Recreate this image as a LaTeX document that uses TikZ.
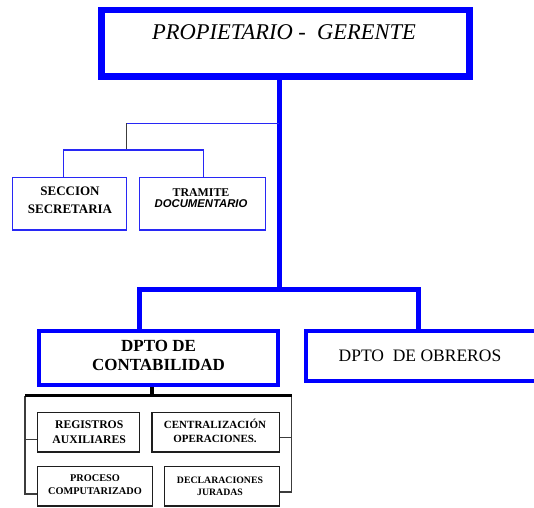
\documentclass[tikz,border=0pt]{standalone}
\usepackage{fontspec}
\setmainfont{Liberation Serif}
\newfontfamily\arialf{Liberation Sans}
\definecolor{pblue}{RGB}{0,0,255}
\definecolor{lblue}{RGB}{40,40,245}
\definecolor{dgray}{RGB}{60,60,60}
\definecolor{boxblk}{RGB}{30,30,30}
\begin{document}
\begin{tikzpicture}[x=1pt,y=-1pt,
  thickbox/.style={draw=pblue, rectangle, inner sep=0pt},
  thinbluebox/.style={draw=lblue, rectangle, inner sep=0pt, line width=1.3pt},
  smallbox/.style={draw=boxblk, rectangle, inner sep=0pt, line width=1.3pt},
  thickline/.style={draw=pblue, line width=5pt},
  thinline/.style={draw=lblue, line width=1.1pt},
  blkthick/.style={draw=black, line width=3.5pt},
  blkthin/.style={draw=dgray, line width=1.3pt},
  txt/.style={anchor=base, align=center, inner sep=0pt, text=black}
]
\useasboundingbox (0,0) rectangle (534,507);

% top box
\node[thickbox, line width=6.7pt, minimum width=368pt, minimum height=66.3pt] (top) at (285.5,43.15) {};
\node[txt, font=\fontsize{22.5}{27}\selectfont\itshape] (toptxt) at (284,39) {PROPIETARIO -~ GERENTE};

% secretary branch
\node[thinbluebox, minimum width=114.4pt, minimum height=52.7pt] (sec) at (69.5,203.65) {};
\node[txt, font=\fontsize{13}{18}\selectfont\bfseries] (sect) at (70,213) {SECCION\\SECRETARIA};
\node[thinbluebox, minimum width=126pt, minimum height=52.7pt] (tra) at (202.8,203.65) {};
\node[txt, font=\fontsize{11.9}{11}\selectfont\bfseries] (trat) at (201,207) {TRAMITE\\{\arialf\fontsize{11.3}{11}\selectfont\bfseries\itshape DOCUMENTARIO}};

\coordinate (jtop) at (279,123.3);
\coordinate (jbot) at (279,289.3);
\coordinate (b1) at (126.7,123.3);
\coordinate (b2) at (126.7,150);
\coordinate (b3) at (63.4,150);
\coordinate (b4) at (203.3,150);

\draw[thickline] (top.south -| jbot) -- (jbot);
\draw[thinline] (jtop) -- (b1);
\draw[blkthin, line width=1.1pt] (b1) -- (b2);
\draw[thinline] (sec.north -| b3) -- (b3) -- (b4) -- (tra.north -| b4);

% departments
\node[thickbox, line width=4pt, minimum width=239.6pt, minimum height=53.7pt] (cont) at (158.5,357.85) {};
\node[txt, font=\fontsize{17}{19}\selectfont\bfseries] (contt) at (158.5,370.7) {DPTO DE\\CONTABILIDAD};
\node[inner sep=0pt, minimum width=228pt, minimum height=49.4pt, font=\fontsize{17.5}{21}\selectfont] (obr) at (420,356) {DPTO~~DE OBREROS};
\draw[pblue, line width=4pt] (obr.north east) -- (obr.north west) -- (obr.south west) -- (obr.south east);

\coordinate (v1) at (139.6,289.3);
\coordinate (v2) at (418.3,289.3);
\draw[thickline, line width=4.5pt] (cont.north -| v1) -- (v1) -- (v2) -- (obr.north -| v2);

% sub units
\node[smallbox, minimum width=102.2pt, minimum height=39.7pt] (reg) at (88.4,432.15) {};
\node[txt, font=\fontsize{11.7}{15}\selectfont\bfseries] (regt) at (89.2,443.3) {REGISTROS\\AUXILIARES};
\node[smallbox, minimum width=127.3pt, minimum height=39.7pt] (cent) at (215.65,432.15) {};
\node[txt, font=\fontsize{11}{13.6}\selectfont\bfseries] (centt) at (215,442.3) {CENTRALIZACIÓN\\OPERACIONES.};
\node[smallbox, minimum width=115pt, minimum height=39.5pt] (proc) at (94.8,486.25) {};
\node[txt, font=\fontsize{10.3}{13.3}\selectfont\bfseries] (proct) at (95,494.3) {PROCESO\\COMPUTARIZADO};
\node[smallbox, minimum width=114.8pt, minimum height=39.5pt] (decl) at (221.9,486.25) {};
\node[txt, font=\fontsize{9.8}{12.3}\selectfont\bfseries] (declt) at (220,495.3) {DECLARACIONES\\JURADAS};

% black bracket
\coordinate (s1) at (152,395.7);
\coordinate (hl) at (25,395.7);
\coordinate (hr) at (291.7,395.7);
\coordinate (lb) at (25,494);
\coordinate (ls1) at (25,439.3);
\coordinate (rb) at (291.7,492);
\coordinate (rs1) at (291.7,437.3);
\draw[blkthick] (cont.south -| s1) -- (s1);
\draw[blkthin] (hl) -- (lb) -- (lb -| proc.west);
\draw[blkthin] (ls1) -- (ls1 -| reg.west);
\draw[blkthin] (hr) -- (rb) -- (rb -| decl.east);
\draw[blkthin] (rs1) -- (rs1 -| cent.east);
\draw[blkthick] (hl) -- (hr);
\end{tikzpicture}
\end{document}
